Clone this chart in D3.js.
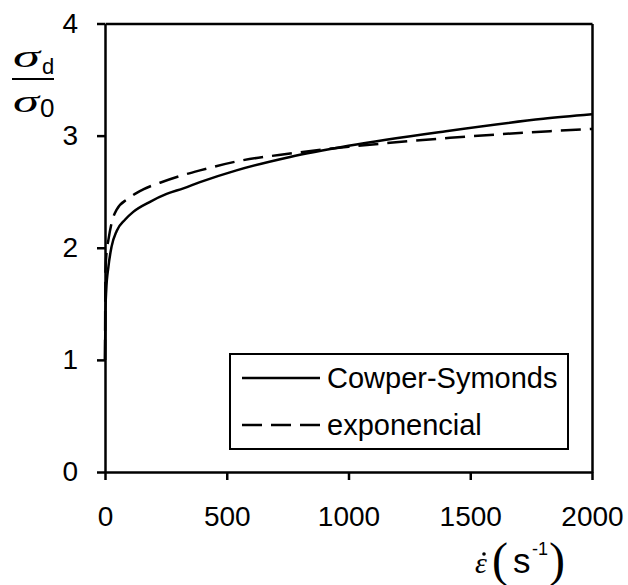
<!DOCTYPE html>
<html>
<head>
<meta charset="utf-8">
<script src="https://cdn.jsdelivr.net/npm/d3@7"></script>
<style>
  body { margin: 0; background: #fff; }
  text { fill: #000; }
</style>
</head>
<body>
<div id="root"></div>
<script>
// strain rate (1/s) and dynamic / static stress ratio
const csRate = [0, 2, 5, 14, 27, 48, 82, 116, 185, 253, 322, 390, 540, 760, 1000, 1400, 1800, 2000];
const csRatio = [1.0, 1.45, 1.62, 1.83, 2.01, 2.15, 2.25, 2.32, 2.41, 2.48, 2.53, 2.585, 2.69, 2.81, 2.91, 3.04, 3.15, 3.19];
const expRate = [0, 2, 6, 14, 27, 48, 96, 157, 226, 308, 390, 541, 760, 1000, 1417, 1828, 2000];
const expRatio = [1.0, 1.8, 1.95, 2.07, 2.22, 2.34, 2.44, 2.52, 2.58, 2.64, 2.69, 2.77, 2.84, 2.9, 2.98, 3.04, 3.06];
const xTicks = [0, 500, 1000, 1500, 2000];
const yTicks = [0, 1, 2, 3, 4];
const legends = [
  ["none", "Cowper-Symonds"],
  ["20,9", "exponencial"]
];

const w = 628;
const h = 585;
const plotLeft = 105, plotRight = 592, plotTop = 23.5, plotBottom = 472;
const sans = "Liberation Sans, Arial, sans-serif";
const serif = "Liberation Serif, Times New Roman, serif";

const xScale = d3.scaleLinear().domain([0, 2000]).range([plotLeft, plotRight]);
const yScale = d3.scaleLinear().domain([0, 4]).range([plotBottom, plotTop]);

const svg = d3.select("#root")
  .append("svg")
  .attr("width", w)
  .attr("height", h)
  .attr("font-family", sans);

const line = d3.line()
  .x(d => xScale(d[0]))
  .y(d => yScale(d[1]))
  .curve(d3.curveMonotoneX);

svg.append("path")
  .datum(csRate.map((r, i) => [r, csRatio[i]]))
  .attr("d", line)
  .attr("fill", "none")
  .attr("stroke", "#000")
  .attr("stroke-width", 2.5);

svg.append("path")
  .datum(expRate.map((r, i) => [r, expRatio[i]]))
  .attr("d", line)
  .attr("fill", "none")
  .attr("stroke", "#000")
  .attr("stroke-width", 2.5)
  .attr("stroke-dasharray", "20,9");

// frame: top and right sides
svg.append("g")
  .attr("transform", `translate(0, ${plotTop})`)
  .call(d3.axisTop(xScale).tickValues([]).tickSizeOuter(0))
  .call(g => g.select(".domain").attr("stroke-width", 2.5));
svg.append("g")
  .attr("transform", `translate(${plotRight}, 0)`)
  .call(d3.axisRight(yScale).tickValues([]).tickSizeOuter(0))
  .call(g => g.select(".domain").attr("stroke-width", 2.5));

const xAxis = d3.axisBottom(xScale)
  .tickValues(xTicks)
  .tickFormat(d3.format("d"))
  .tickSize(8)
  .tickSizeOuter(0)
  .tickPadding(26);
const yAxis = d3.axisLeft(yScale)
  .tickValues(yTicks)
  .tickFormat(d3.format("d"))
  .tickSize(8)
  .tickSizeOuter(0)
  .tickPadding(19);

svg.append("g")
  .attr("transform", `translate(0, ${plotBottom})`)
  .call(xAxis)
  .call(g => g.selectAll("line, .domain").attr("stroke-width", 2.5))
  .call(g => g.selectAll("text").attr("font-size", 28).attr("font-family", sans));

svg.append("g")
  .attr("transform", `translate(${plotLeft}, 0)`)
  .call(yAxis)
  .call(g => g.selectAll("line, .domain").attr("stroke-width", 2.5))
  .call(g => g.selectAll("text").attr("font-size", 28).attr("font-family", sans));

// legend
const lg = svg.append("g");
lg.append("rect")
  .attr("x", 230).attr("y", 354)
  .attr("width", 338).attr("height", 95)
  .attr("fill", "#fff")
  .attr("stroke", "#000")
  .attr("stroke-width", 2);
lg.selectAll(".legend-line")
  .data(legends)
  .enter()
  .append("line")
  .attr("x1", 242).attr("x2", 320)
  .attr("y1", (d, i) => 378 + 47 * i)
  .attr("y2", (d, i) => 378 + 47 * i)
  .attr("stroke", "#000")
  .attr("stroke-width", 2.5)
  .attr("stroke-dasharray", d => d[0]);
lg.selectAll(".legend-text")
  .data(legends)
  .enter()
  .append("text")
  .attr("x", 327)
  .attr("y", (d, i) => 378 + 47 * i)
  .attr("dy", "0.35em")
  .attr("font-size", 29)
  .text(d => d[1]);

// y label: sigma_d / sigma_0
const yl = svg.append("g");
yl.append("text")
  .attr("x", 13).attr("y", 67)
  .attr("font-family", serif)
  .attr("font-style", "italic")
  .attr("font-size", 32)
  .attr("textLength", 27)
  .attr("lengthAdjust", "spacingAndGlyphs")
  .text("σ");
yl.append("text")
  .attr("x", 42).attr("y", 74)
  .attr("font-size", 22)
  .text("d");
yl.append("line")
  .attr("x1", 12).attr("x2", 54)
  .attr("y1", 79).attr("y2", 79)
  .attr("stroke", "#000")
  .attr("stroke-width", 2);
yl.append("text")
  .attr("x", 13).attr("y", 112)
  .attr("font-family", serif)
  .attr("font-style", "italic")
  .attr("font-size", 32)
  .attr("textLength", 26)
  .attr("lengthAdjust", "spacingAndGlyphs")
  .text("σ");
yl.append("text")
  .attr("x", 40).attr("y", 117)
  .attr("font-size", 26)
  .text("0");

// x label: strain rate (s^-1)
const xl = svg.append("g");
xl.append("text")
  .attr("x", 475).attr("y", 573)
  .attr("font-family", serif)
  .attr("font-style", "italic")
  .attr("font-size", 30)
  .text("ε");
xl.append("circle")
  .attr("cx", 484).attr("cy", 554)
  .attr("r", 1.8)
  .attr("fill", "#000");
xl.append("text")
  .attr("x", 492).attr("y", 576)
  .attr("font-family", serif)
  .attr("font-size", 48)
  .text("(");
xl.append("text")
  .attr("x", 513).attr("y", 573)
  .attr("font-size", 35)
  .text("s");
xl.append("text")
  .attr("x", 532).attr("y", 555)
  .attr("font-size", 18)
  .text("-1");
xl.append("text")
  .attr("x", 549).attr("y", 576)
  .attr("font-family", serif)
  .attr("font-size", 48)
  .text(")");
</script>
</body>
</html>
